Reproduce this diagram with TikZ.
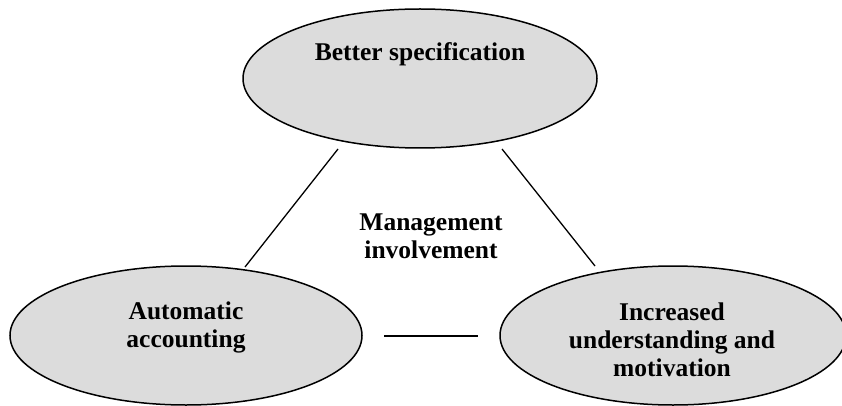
\documentclass[tikz,border=0pt]{standalone}
\usepackage{fontspec}
\setmainfont{Liberation Serif}
\usetikzlibrary{shapes.geometric}
\definecolor{ovalgray}{RGB}{220,220,220}
\begin{document}
\begin{tikzpicture}[x=1pt,y=-1pt,
  oval/.style={ellipse, draw=black, line width=1.5pt, fill=ovalgray, inner sep=0pt},
  caption/.style={font=\bfseries\fontsize{25.5}{28}\selectfont, align=center, inner sep=0pt, anchor=base},
  link/.style={line width=1.3pt}]
\useasboundingbox (0,0) rectangle (842,406);

% the three ovals
\node[oval, minimum width=354pt, minimum height=139pt] (spec) at (420,78.5) {};
\node[oval, minimum width=352pt, minimum height=139pt] (acct) at (186,335.5) {};
\node[oval, minimum width=346pt, minimum height=139pt] (motiv) at (673,335.5) {};

% their texts (anchored at the baseline of the last line)
\node[caption] (specText) at (420,61) {Better specification};
\node[caption] (acctText) at (186,347) {Automatic\\accounting};
\node[caption] (motivText) at (672,376) {Increased\\understanding and\\motivation};
\node[caption] (mgmt) at (431,258) {Management\\involvement};

% connector ends
\coordinate (specL) at (338,149);
\coordinate (specR) at (502,149);
\coordinate (acctT) at (245,267);
\coordinate (motivT) at (595,266);
\coordinate (acctR) at (384,336);
\coordinate (motivL) at (478,336);

\draw[link] (specL) -- (acctT);
\draw[link] (specR) -- (motivT);
\draw[link] (acctR) -- (motivL);
\end{tikzpicture}
\end{document}
